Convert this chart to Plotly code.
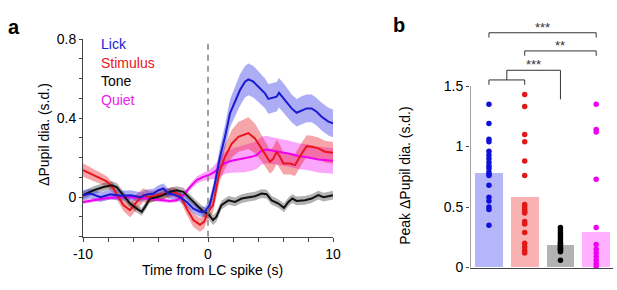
import plotly.graph_objects as go

# ---------------- Panel a data ----------------
lick_t = [-10, -9.4, -8.6, -7.8, -7.0, -6.2, -5.4, -4.9, -4.37, -3.97, -3.57, -3.17, -2.77, -2.24, -1.7, -1.17,
          -0.64, -0.24, 0.13, 0.53, 0.93, 1.2, 1.36, 1.76, 2.16, 2.56, 2.96, 3.23, 3.63, 4.16, 4.56, 4.83, 5.09,
          5.49, 5.68, 6.16, 6.69, 7.09, 7.49, 7.89, 8.29, 8.69, 9.09, 9.63, 10]
lick_y = [0.01, 0.018, 0.0, 0.014, 0.007, 0.01, 0.0, 0.014, 0.018, 0.035, 0.044, 0.018, 0.014, 0.0, -0.024, -0.058,
          -0.074, -0.074, -0.04, 0.06, 0.196, 0.263, 0.305, 0.424, 0.483, 0.542, 0.584, 0.596, 0.584, 0.55, 0.525,
          0.497, 0.5, 0.508, 0.528, 0.491, 0.449, 0.427, 0.44, 0.449, 0.449, 0.432, 0.407, 0.382, 0.373]
lick_e = [0.025, 0.025, 0.025, 0.025, 0.025, 0.025, 0.025, 0.025, 0.025, 0.025, 0.025, 0.025, 0.025, 0.025, 0.025, 0.025,
          0.025, 0.025, 0.03, 0.04, 0.05, 0.055, 0.06, 0.07, 0.075, 0.08, 0.08, 0.08, 0.08, 0.075, 0.075, 0.075, 0.075,
          0.075, 0.075, 0.075, 0.07, 0.07, 0.07, 0.07, 0.07, 0.07, 0.07, 0.07, 0.07]

stim_t = [-10, -9.17, -8.6, -8.1, -7.57, -7.1, -6.77, -6.24, -5.7, -5.17, -4.64, -4.1, -3.3, -2.77, -2.24, -1.7,
          -1.17, -0.64, -0.32, 0, 0.4, 0.93, 1.33, 1.89, 2.43, 3.23, 3.76, 4.29, 4.69, 4.96, 5.23, 5.49, 5.76, 6.03,
          6.56, 6.96, 7.49, 7.89, 8.29, 8.83, 9.36, 10]
stim_y = [0.137, 0.11, 0.095, 0.08, 0.044, -0.007, -0.04, -0.066, -0.024, 0.01, 0.0, 0.01, 0.018, 0.027, 0.01, -0.058,
          -0.116, -0.14, -0.125, -0.074, -0.04, 0.13, 0.2, 0.27, 0.305, 0.324, 0.297, 0.247, 0.204, 0.179, 0.195,
          0.23, 0.204, 0.17, 0.17, 0.162, 0.22, 0.258, 0.255, 0.247, 0.23, 0.224]
stim_e = [0.034, 0.03, 0.028, 0.026, 0.025, 0.025, 0.03, 0.035, 0.04, 0.035, 0.03, 0.025, 0.025, 0.025, 0.025, 0.03,
          0.035, 0.035, 0.035, 0.035, 0.04, 0.05, 0.06, 0.07, 0.075, 0.08, 0.075, 0.065, 0.06, 0.06, 0.06,
          0.06, 0.06, 0.055, 0.055, 0.055, 0.055, 0.055, 0.055, 0.055, 0.055, 0.055]

tone_t = [-10, -9.15, -8.35, -7.7, -7.3, -6.77, -6.24, -5.7, -5.3, -5.04, -4.64, -4.1, -3.57, -3.04, -2.5, -1.97,
          -1.44, -0.9, -0.37, 0, 0.4, 0.67, 1.07, 1.63, 2.16, 2.69, 3.23, 3.76, 4.29, 4.69, 5.09, 5.63, 6.08, 6.43,
          6.75, 7.09, 7.76, 8.29, 8.83, 9.23, 9.63, 10]
tone_y = [0.01, 0.035, 0.051, 0.06, 0.051, 0.01, -0.032, -0.058, -0.074, -0.049, -0.007, 0.0, 0.01, 0.027, 0.035,
          0.027, -0.007, -0.04, -0.074, -0.083, -0.116, -0.1, -0.04, -0.016, -0.024, -0.007, 0.0, 0.005, 0.018,
          0.015, -0.016, -0.032, -0.054, -0.024, -0.007, -0.019, -0.016, -0.007, 0.01, 0.0, 0.005, 0.01]
tone_e = [0.02] * 18 + [0.025, 0.025, 0.025, 0.025] + [0.022] * 20

quiet_t = [-10, -9.15, -8.08, -7.0, -5.97, -4.9, -3.84, -3.04, -2.5, -1.97, -1.44, -0.9, -0.37, 0.13, 0.53, 0.83,
           1.36, 1.89, 2.43, 2.96, 3.49, 3.89, 4.29, 4.69, 5.09, 5.63, 6.43, 7.23, 8.03, 8.83, 10]
quiet_y = [-0.024, -0.016, -0.004, 0.0, 0.0, -0.007, -0.016, -0.02, -0.016, 0.01, 0.051, 0.086, 0.103, 0.114,
           0.128, 0.144, 0.173, 0.184, 0.19, 0.196, 0.204, 0.213, 0.235, 0.241, 0.235, 0.23, 0.221, 0.208, 0.201,
           0.19, 0.184]
quiet_e = [0.01, 0.01, 0.01, 0.01, 0.01, 0.01, 0.01, 0.01, 0.01, 0.012, 0.015, 0.018, 0.02, 0.025, 0.035, 0.045,
           0.055, 0.06, 0.065, 0.07, 0.07, 0.07, 0.07, 0.07, 0.068, 0.068, 0.066, 0.065, 0.065, 0.065, 0.065]

series_names = ["Lick", "Stimulus", "Tone", "Quiet"]
line_colors = ["#1a1ad2", "#e8141e", "#111111", "#f000f0"]
text_colors = ["#2020d8", "#e8141e", "#000000", "#f020f0"]
band_colors = ["rgba(40,40,230,0.38)", "rgba(232,20,30,0.38)", "rgba(0,0,0,0.3)", "rgba(240,0,240,0.35)"]

# ---------------- Panel b data ----------------
groups = ["Lick", "Stimulus", "Tone", "Quiet"]
peak_means = [0.78, 0.58, 0.18, 0.29]
lick_pts = [1.35, 1.19, 1.06, 1.04, 0.96, 0.93, 0.90, 0.87, 0.84, 0.82, 0.79, 0.77, 0.76, 0.68, 0.58, 0.55, 0.50,
            0.48, 0.35]
stim_pts = [1.43, 1.33, 1.10, 1.04, 0.88, 0.76, 0.52, 0.50, 0.48, 0.46, 0.45, 0.38, 0.36, 0.29, 0.20, 0.17, 0.14,
            0.12]
tone_pts = [0.33, 0.31, 0.29, 0.27, 0.25, 0.23, 0.21, 0.20, 0.19, 0.18, 0.17, 0.16, 0.15, 0.14, 0.13, 0.06]
quiet_pts = [1.35, 1.14, 1.12, 0.73, 0.33, 0.19, 0.15, 0.12, 0.09, 0.06, 0.03, 0.01]
dot_colors = ["#1010d8", "#e01818", "#000000", "#f000f0"]
bar_colors = ["rgba(60,60,240,0.38)", "rgba(240,60,60,0.4)", "rgba(0,0,0,0.3)", "rgba(255,60,255,0.4)"]

# significance: (x0, x1, bracket y, leg y, label)
sig_pairs = [(0, 3, 1.94, 1.90, "***"), (1, 3, 1.79, 1.75, "**")]
sig_label_y = [1.985, 1.835]

FONT = "Arial, Liberation Sans, sans-serif"
XB_RANGE = [-0.53, 3.47]
YB_RANGE = [0, 2.1]

fig = go.Figure()

curves = [(lick_t, lick_y, lick_e), (stim_t, stim_y, stim_e), (tone_t, tone_y, tone_e), (quiet_t, quiet_y, quiet_e)]
draw_order = [3, 1, 2, 0]
for i in draw_order:
    t, y, e = curves[i]
    up = [a + b for a, b in zip(y, e)]
    lo = [a - b for a, b in zip(y, e)]
    fig.add_trace(go.Scatter(x=t + t[::-1], y=up + lo[::-1], fill="toself", fillcolor=band_colors[i],
                             line=dict(width=0), mode="lines", hoverinfo="skip", showlegend=False,
                             xaxis="x", yaxis="y"))
for i in draw_order:
    t, y, e = curves[i]
    fig.add_trace(go.Scatter(x=t, y=y, mode="lines", line=dict(color=line_colors[i], width=2),
                             name=series_names[i], showlegend=False, xaxis="x", yaxis="y"))

# Panel b bars and dots
fig.add_trace(go.Bar(x=list(range(4)), y=peak_means, marker=dict(color=bar_colors, line=dict(width=0)),
                     width=0.78, showlegend=False, xaxis="x2", yaxis="y2"))
for i, pts in enumerate([lick_pts, stim_pts, tone_pts, quiet_pts]):
    fig.add_trace(go.Scatter(x=[i] * len(pts), y=pts, mode="markers",
                             marker=dict(color=dot_colors[i], size=5.5), showlegend=False,
                             xaxis="x2", yaxis="y2", cliponaxis=False))
# left axis line of panel b (only up to 1.5)
fig.add_trace(go.Scatter(x=[XB_RANGE[0], XB_RANGE[0]], y=[0, 1.5], mode="lines",
                         line=dict(color="#444", width=1), showlegend=False, hoverinfo="skip",
                         xaxis="x2", yaxis="y2", cliponaxis=False))

shapes = []
# dashed line at spike time
shapes.append(dict(type="line", xref="x", yref="y", x0=0, x1=0, y0=-0.2, y1=0.8,
                   line=dict(color="#808080", width=1.5, dash="6px,5px")))
br = dict(color="#333333", width=1)
# blue-red bracket then to tone
shapes += [
    dict(type="line", xref="x2", yref="y2", x0=0, x1=1, y0=1.55, y1=1.55, line=br),
    dict(type="line", xref="x2", yref="y2", x0=0, x1=0, y0=1.51, y1=1.55, line=br),
    dict(type="line", xref="x2", yref="y2", x0=1, x1=1, y0=1.51, y1=1.55, line=br),
    dict(type="line", xref="x2", yref="y2", x0=0.5, x1=0.5, y0=1.55, y1=1.63, line=br),
    dict(type="line", xref="x2", yref="y2", x0=0.5, x1=2, y0=1.63, y1=1.63, line=br),
    dict(type="line", xref="x2", yref="y2", x0=2, x1=2, y0=1.39, y1=1.63, line=br),
]
for (a, b, yb, yl, lab) in sig_pairs:
    shapes += [
        dict(type="line", xref="x2", yref="y2", x0=a, x1=b, y0=yb, y1=yb, line=br),
        dict(type="line", xref="x2", yref="y2", x0=a, x1=a, y0=yl, y1=yb, line=br),
        dict(type="line", xref="x2", yref="y2", x0=b, x1=b, y0=yl, y1=yb, line=br),
    ]

annotations = []
# legend labels in panel a
leg_y = [0.775, 0.68, 0.587, 0.49]
for i, name in enumerate(series_names):
    annotations.append(dict(text=name, x=-8.7, y=leg_y[i], xref="x", yref="y", xanchor="left",
                            yanchor="middle", showarrow=False,
                            font=dict(family=FONT, size=14, color=text_colors[i])))
# star labels
annotations.append(dict(text="***", x=1.5, y=sig_label_y[0], xref="x2", yref="y2", showarrow=False,
                        font=dict(family=FONT, size=13, color="#333")))
annotations.append(dict(text="**", x=2.0, y=sig_label_y[1], xref="x2", yref="y2", showarrow=False,
                        font=dict(family=FONT, size=13, color="#333")))
annotations.append(dict(text="***", x=1.25, y=1.675, xref="x2", yref="y2", showarrow=False,
                        font=dict(family=FONT, size=13, color="#333")))
# axis titles
annotations.append(dict(text="ΔPupil dia. (s.d.)", x=0.055, y=0.538, xref="paper", yref="paper",
                        textangle=-90, showarrow=False, font=dict(family=FONT, size=14, color="#000")))
annotations.append(dict(text="Time from LC spike (s)", x=0.345, y=0.0345, xref="paper", yref="paper",
                        showarrow=False, font=dict(family=FONT, size=14, color="#000")))
annotations.append(dict(text="Peak ΔPupil dia. (s.d.)", x=0.6726, y=0.397, xref="paper", yref="paper",
                        textangle=-90, showarrow=False, font=dict(family=FONT, size=14, color="#000")))
# panel letters
annotations.append(dict(text="<b>a</b>", x=0.0097, y=0.952, xref="paper", yref="paper", showarrow=False,
                        font=dict(family=FONT, size=20, color="#000")))
annotations.append(dict(text="<b>b</b>", x=0.6467, y=0.960, xref="paper", yref="paper", showarrow=False,
                        font=dict(family=FONT, size=20, color="#000")))

xa_ticks = list(range(-10, 11, 2))
xa_text = ["-10" if v == -10 else ("0" if v == 0 else ("10" if v == 10 else "")) for v in xa_ticks]
ya_ticks = [round(-0.2 + 0.1 * k, 1) for k in range(11)]
ya_text = ["0.8" if v == 0.8 else ("0.4" if v == 0.4 else ("0" if v == 0 else "")) for v in ya_ticks]

fig.update_layout(
    width=617, height=290, margin=dict(l=0, r=0, t=0, b=0, autoexpand=False),
    paper_bgcolor="white", plot_bgcolor="white",
    font=dict(family=FONT, size=14, color="#000"),
    shapes=shapes, annotations=annotations, showlegend=False,
    xaxis=dict(domain=[83 / 617, 333 / 617], range=[-10, 10], tickvals=xa_ticks, ticktext=xa_text,
               showline=True, linecolor="#444", linewidth=1, ticks="outside", ticklen=4, tickcolor="#444",
               showgrid=False, zeroline=False, anchor="y", tickfont=dict(size=14), automargin=False),
    yaxis=dict(domain=[(290 - 236.7) / 290, (290 - 39) / 290], range=[-0.2, 0.8], tickvals=ya_ticks,
               ticktext=ya_text, showline=True, linecolor="#444", linewidth=1, ticks="outside", ticklen=3,
               tickcolor="#444", showgrid=False, zeroline=False, anchor="x", tickfont=dict(size=14),
               automargin=False),
    xaxis2=dict(domain=[470 / 617, 613 / 617], range=XB_RANGE, showticklabels=False, ticks="",
                showline=True, linecolor="#444", linewidth=1, showgrid=False, zeroline=False, anchor="y2",
                automargin=False),
    yaxis2=dict(domain=[(290 - 267.5) / 290, (290 - 267.5 + 2.1 * 121) / 290], range=YB_RANGE,
                tickvals=[0, 0.5, 1, 1.5], ticktext=["0", "0.5", "1", "1.5"], showline=False,
                ticks="outside", ticklen=3, tickcolor="#444", showgrid=False, zeroline=False,
                anchor="x2", tickfont=dict(size=14), automargin=False),
    bargap=0,
)

fig.write_html("out.html", config={"displayModeBar": False},
               post_script="document.body.style.margin='0';document.body.style.padding='0';")
